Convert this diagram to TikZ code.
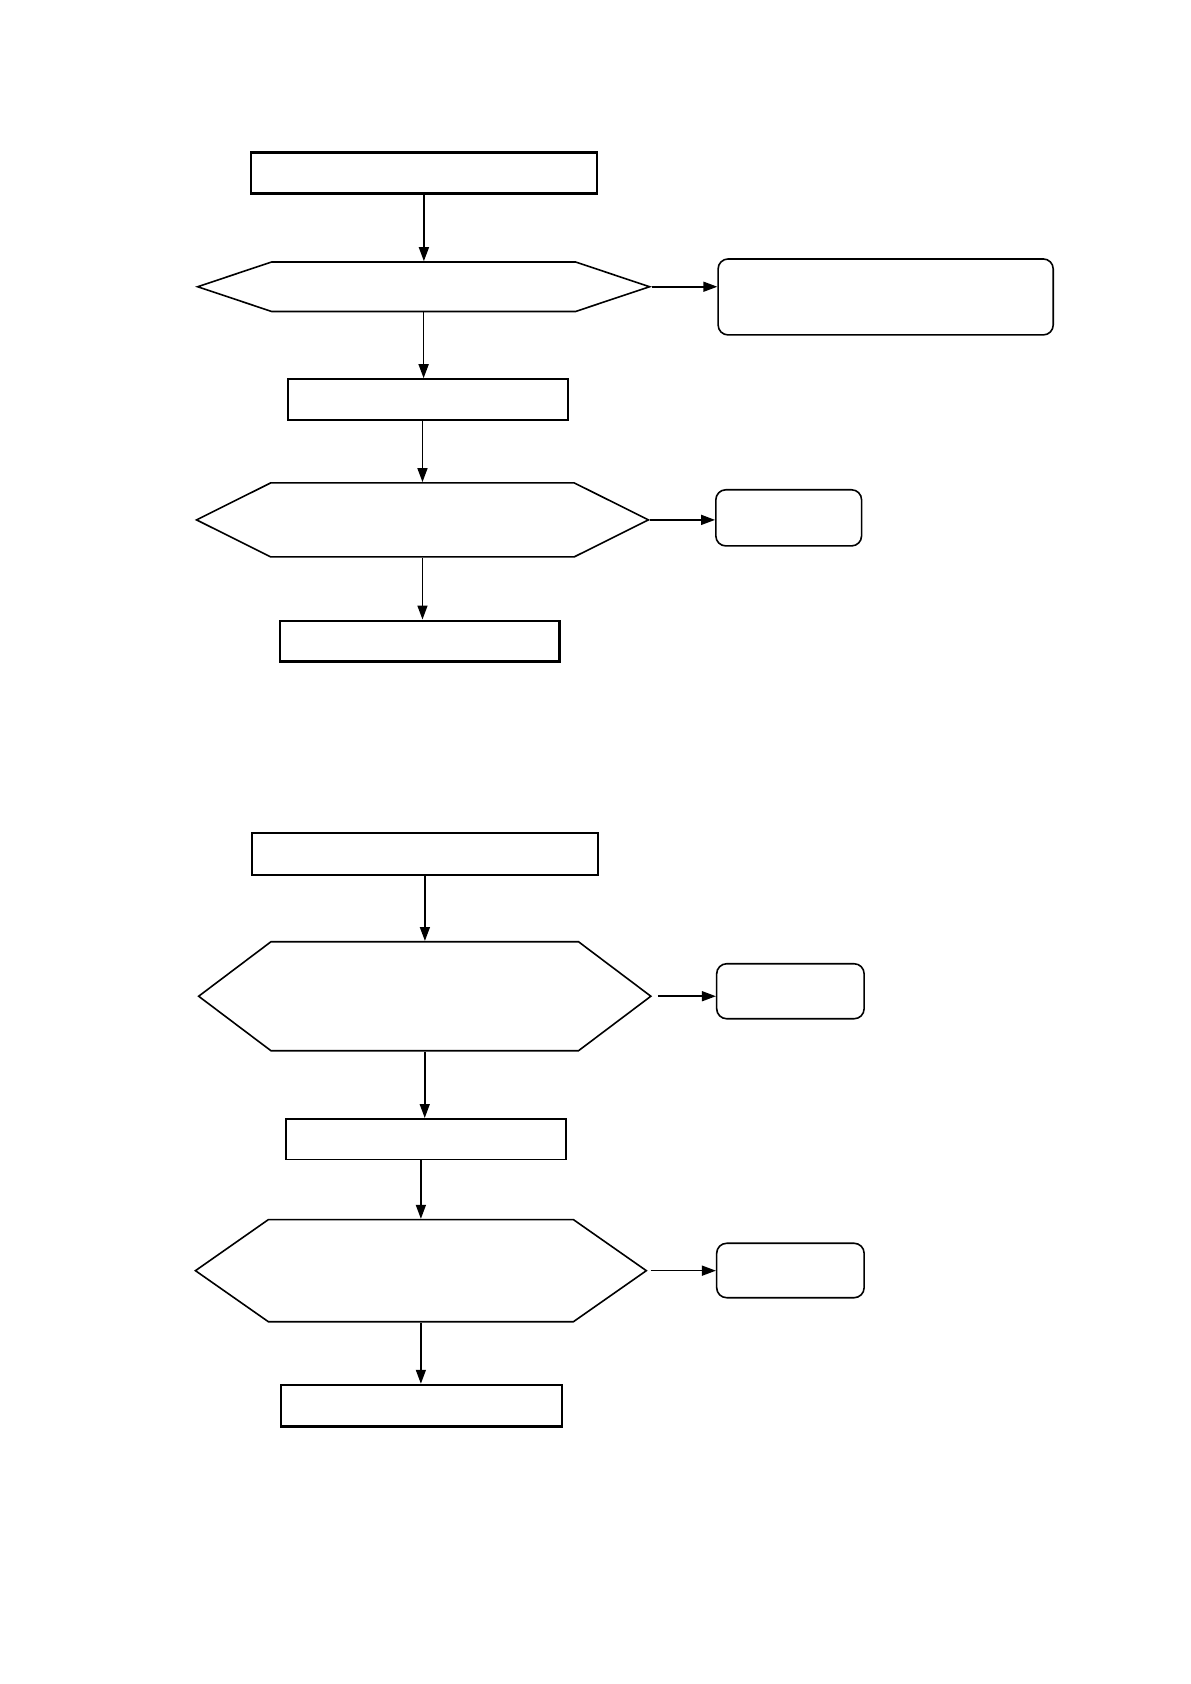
\documentclass[tikz,border=0pt]{standalone}
\usetikzlibrary{arrows.meta,shapes.symbols}
\begin{document}
\begin{tikzpicture}[
  box/.style={draw, line width=0.8pt, minimum height=0.72cm, inner sep=0pt},
  hexa/.style={draw, line width=0.8pt, signal, signal to=east and west, inner sep=0pt},
  outbox/.style={draw, line width=0.8pt, rounded corners=5pt, inner sep=0pt},
  arr/.style={-{Triangle[length=7pt,width=5pt]}, line width=0.8pt}
]
  \useasboundingbox (0,0) rectangle (21,-29.7);

  % upper chart
  \node[box, line width=1.2pt, minimum width=6.10cm] (s1) at (7.476,-3.050) {};
  \node[hexa, minimum width=7.97cm, minimum height=0.873cm, signal pointer angle=37] (d1) at (7.471,-5.057) {};
  \node[outbox, minimum width=5.91cm, minimum height=1.34cm] (o1) at (15.62,-5.237) {};
  \node[box, minimum width=4.94cm] (s2) at (7.547,-7.044) {};
  \node[hexa, minimum width=7.97cm, minimum height=1.305cm, signal pointer angle=53] (d2) at (7.451,-9.169) {};
  \node[outbox, minimum width=2.57cm, minimum height=0.99cm] (o2) at (13.91,-9.133) {};
  \node[box, line width=1.2pt, minimum width=4.93cm] (s3) at (7.401,-11.307) {};

  \draw[arr] (s1) -- (s1 |- d1.north);
  \draw[arr] (d1.east) -- (d1.east -| o1.west);
  \draw[arr] (d1) -- (d1 |- s2.north);
  \draw[arr] (d2.north |- s2.south) -- (d2.north);
  \draw[arr] (d2.east) -- (o2.west |- d2.east);
  \draw[arr] (d2) -- (d2 |- s3.north);

  % lower chart
  \node[box, minimum width=6.10cm, minimum height=0.74cm] (s4) at (7.494,-15.058) {};
  \node[hexa, minimum width=7.975cm, minimum height=1.922cm, signal pointer angle=74] (d3) at (7.491,-17.570) {};
  \node[outbox, minimum width=2.60cm, minimum height=0.97cm] (o3) at (13.94,-17.482) {};
  \node[box, minimum width=4.94cm] (s5) at (7.509,-20.091) {};
  \node[hexa, minimum width=7.952cm, minimum height=1.80cm, signal pointer angle=70] (d4) at (7.423,-22.41) {};
  \node[outbox, minimum width=2.60cm, minimum height=0.96cm] (o4) at (13.94,-22.407) {};
  \node[box, line width=1.2pt, minimum width=4.955cm, minimum height=0.73cm] (s6) at (7.432,-24.79) {};

  \draw[arr] (s4) -- (s4 |- d3.north);
  \draw[arr] ([xshift=0.1cm]d3.east) -- (d3.east -| o3.west);
  \draw[arr] (d3) -- (d3 |- s5.north);
  \draw[arr] (d4.north |- s5.south) -- (d4.north);
  \draw[arr] ([xshift=0.05cm]d4.east) -- (d4.east -| o4.west);
  \draw[arr] (d4) -- (d4 |- s6.north);
\end{tikzpicture}
\end{document}
